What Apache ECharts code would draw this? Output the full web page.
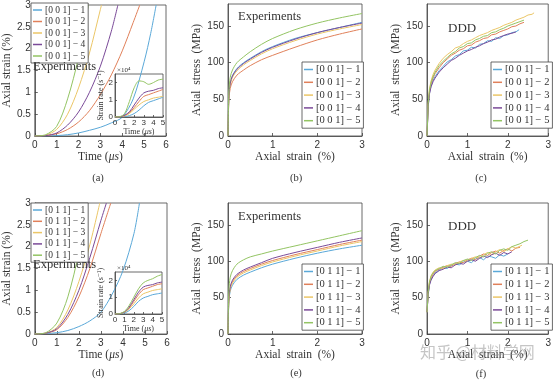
<!DOCTYPE html>
<html><head><meta charset="utf-8">
<script src="https://cdn.jsdelivr.net/npm/echarts@6/dist/echarts.min.js"></script>
<style>html,body{margin:0;padding:0;background:#fff}#c{width:554px;height:383px}</style>
</head><body><div id="c"></div>
<script>
// ---------- DATA ----------
const names001 = ['[0 0 1] − 1','[0 0 1] − 2','[0 0 1] − 3','[0 0 1] − 4','[0 0 1] − 5'];
const names011 = ['[0 1 1] − 1','[0 1 1] − 2','[0 1 1] − 3','[0 1 1] − 4','[0 1 1] − 5'];
const colors = ['#5aa8d8','#e0805a','#ebc667','#7a4a98','#93c463'];

// (a) axial strain (%) vs time (us), [001]
const a1 = [[0,0],[1,0.01],[1.5,0.03],[2,0.07],[2.5,0.13],[3,0.2],[3.5,0.3],[4,0.43],[4.5,0.85],[5,1.7],[5.3,2.35],[5.55,3.0]];
const a2 = [[0,0],[0.5,0.01],[1,0.05],[1.5,0.15],[2,0.32],[2.5,0.58],[3,0.95],[3.5,1.4],[4,1.95],[4.5,2.6],[4.8,3.0]];
const a3 = [[0,0],[0.5,0.02],[1,0.15],[1.5,0.5],[2,1.1],[2.5,1.9],[3,2.9],[3.05,3.0]];
const a4 = [[0,0],[0.5,0.01],[1,0.07],[1.5,0.25],[2,0.55],[2.5,1.0],[3,1.6],[3.5,2.4],[3.8,3.0]];
const a5 = [[0,0],[0.5,0.03],[1,0.22],[1.5,0.85],[2,1.8],[2.45,3.0]];
// (a) inset strain rate (x1e4 1/s)
const tInset = [0,0.5,1,1.5,2,2.5,3,3.5,4,4.5,5];
const ai1 = [0,0,0.02,0.08,0.2,0.4,0.65,0.85,0.95,1.05,1.15];
const ai2 = [0,0.01,0.08,0.25,0.55,0.9,1.2,1.3,1.4,1.5,1.6];
const ai3 = [0,0.01,0.06,0.2,0.45,0.7,0.9,1.0,1.1,1.15,1.2];
const ai4 = [0,0.01,0.1,0.3,0.7,1.1,1.4,1.5,1.55,1.65,1.7];
const ai5 = [0,0.02,0.2,0.9,1.7,2.1,2.05,1.9,2.0,2.15,2.2];

// (b) experiments [001] stress (MPa) vs strain (%)
const strainExp = [0,0.02,0.05,0.1,0.2,0.35,0.5,0.75,1,1.5,2,2.5,3];
const b1 = [0,55,72,82,92,100,106,115,122,133,141,148,155];
const b2 = [0,50,65,74,83,90,96,104,110,121,131,139,146];
const b3 = [0,55,70,80,89,97,103,112,119,130,139,146,152];
const b4 = [0,55,72,82,91,99,105,114,121,132,141,148,154];
const b5 = [0,60,80,90,100,108,115,125,133,145,154,161,167];

// (c) DDD [001]
const c1 = [[0,0],[0.03,40],[0.06,58],[0.1,68],[0.15,76],[0.2,81],[0.3,89],[0.4,95],[0.5,101],[0.6,104],[0.7,109],[0.8,111],[0.9,116],[1.0,117],[1.1,121],[1.2,120],[1.3,125],[1.4,126],[1.5,130],[1.6,129],[1.7,134],[1.8,133],[1.9,137],[2.0,138],[2.1,141],[2.2,142],[2.28,145]];
const c2 = [[0,0],[0.03,42],[0.06,60],[0.1,71],[0.15,79],[0.2,85],[0.3,93],[0.4,100],[0.5,105],[0.6,110],[0.7,113],[0.8,117],[0.9,119],[1.0,123],[1.1,124],[1.2,128],[1.3,130],[1.4,133],[1.5,134],[1.6,138],[1.7,139],[1.8,142],[1.9,144],[2.0,146],[2.1,149],[2.2,150],[2.3,153],[2.4,155]];
const c3 = [[0,0],[0.03,45],[0.06,64],[0.1,75],[0.15,84],[0.2,90],[0.3,99],[0.4,106],[0.5,111],[0.6,115],[0.7,120],[0.8,122],[0.9,126],[1.0,129],[1.1,131],[1.2,134],[1.3,137],[1.4,139],[1.5,141],[1.6,144],[1.7,146],[1.8,148],[1.9,151],[2.0,153],[2.1,155],[2.2,158],[2.3,160],[2.4,162],[2.5,165],[2.6,166],[2.65,168]];
const c4 = [[0,0],[0.03,40],[0.06,57],[0.1,67],[0.15,74],[0.2,79],[0.3,87],[0.4,93],[0.5,98],[0.6,103],[0.7,106],[0.8,110],[0.9,113],[1.0,116],[1.1,118],[1.2,121],[1.3,123],[1.4,126],[1.5,128],[1.6,131],[1.7,132],[1.8,135],[1.9,137],[2.0,139],[2.1,140],[2.2,142]];
const c5 = [[0,0],[0.03,44],[0.06,62],[0.1,73],[0.15,81],[0.2,87],[0.3,96],[0.4,102],[0.5,107],[0.6,112],[0.7,115],[0.8,120],[0.9,122],[1.0,126],[1.1,127],[1.2,131],[1.3,133],[1.4,136],[1.5,137],[1.6,141],[1.7,142],[1.8,145],[1.9,147],[2.0,150],[2.1,152],[2.2,154],[2.3,156],[2.4,158]];

// (d) axial strain vs time, [011]
const d1 = [[0,0],[0.5,0.01],[1,0.03],[1.5,0.08],[2,0.17],[2.5,0.3],[3,0.5],[3.5,0.9],[4,1.45],[4.5,2.3],[4.75,3.0]];
const d2 = [[0,0],[0.5,0.02],[1,0.1],[1.5,0.38],[2,0.85],[2.5,1.5],[3,2.3],[3.45,3.0]];
const d3 = [[0,0],[0.5,0.02],[1,0.15],[1.5,0.55],[2,1.2],[2.5,2.05],[2.95,3.0]];
const d4 = [[0,0],[0.5,0.02],[1,0.12],[1.5,0.45],[2,1.0],[2.5,1.75],[3,2.6],[3.25,3.0]];
const d5 = [[0,0],[0.5,0.03],[1,0.25],[1.5,0.85],[2,1.9],[2.25,3.0]];
// (d) inset
const di1 = [0,0.01,0.05,0.2,0.45,0.75,0.95,1.05,1.15,1.2,1.25];
const di2 = [0,0.02,0.1,0.35,0.75,1.15,1.45,1.55,1.65,1.75,1.8];
const di3 = [0,0.02,0.1,0.3,0.6,0.95,1.2,1.3,1.4,1.45,1.5];
const di4 = [0,0.02,0.12,0.4,0.85,1.3,1.6,1.7,1.75,1.85,1.9];
const di5 = [0,0.02,0.15,0.5,1.0,1.5,1.85,2.0,2.1,2.25,2.35];

// (e) experiments [011]
const e1 = [0,45,59,67,75,81,85,91,96,104,111,117,122];
const e2 = [0,48,63,72,80,86,90,96,101,109,116,123,129];
const e3 = [0,47,62,70,78,84,88,94,99,107,114,121,127];
const e4 = [0,50,65,74,82,88,92,98,104,112,119,126,132];
const e5 = [0,60,78,87,96,102,106,110,114,121,128,135,142];

// (f) DDD [011]
const f1 = [[0,30],[0.03,55],[0.06,68],[0.1,75],[0.15,80],[0.2,84],[0.3,88],[0.4,91],[0.5,90],[0.6,94],[0.7,96],[0.8,95],[0.9,99],[1.0,100],[1.1,98],[1.2,103],[1.3,105],[1.4,102],[1.5,107],[1.6,106],[1.7,104],[1.8,109],[1.9,107],[2.0,110]];
const f2 = [[0,30],[0.03,56],[0.06,70],[0.1,77],[0.15,82],[0.2,86],[0.3,89],[0.4,92],[0.5,94],[0.6,93],[0.7,97],[0.8,99],[0.9,98],[1.0,102],[1.1,104],[1.2,102],[1.3,107],[1.4,110],[1.5,108],[1.6,112],[1.7,114],[1.8,111],[1.9,115],[2.0,117],[2.1,114],[2.2,118],[2.3,119]];
const f3 = [[0,30],[0.03,58],[0.06,72],[0.1,80],[0.15,85],[0.2,88],[0.3,91],[0.4,90],[0.5,94],[0.6,96],[0.7,95],[0.8,99],[0.9,101],[1.0,100],[1.1,104],[1.2,106],[1.3,104],[1.4,109],[1.5,112],[1.6,109],[1.7,113],[1.8,116],[1.9,113],[2.0,117],[2.1,120],[2.2,118],[2.35,122]];
const f4 = [[0,30],[0.03,54],[0.06,67],[0.1,74],[0.15,79],[0.2,83],[0.3,87],[0.4,89],[0.5,92],[0.6,91],[0.7,95],[0.8,97],[0.9,96],[1.0,100],[1.1,102],[1.2,100],[1.3,104],[1.4,107],[1.5,105],[1.6,109],[1.7,111],[1.8,108],[1.9,112],[2.0,110],[2.1,113]];
const f5 = [[0,30],[0.03,57],[0.06,71],[0.1,79],[0.15,84],[0.2,87],[0.3,90],[0.4,93],[0.5,92],[0.6,95],[0.7,98],[0.8,97],[0.9,101],[1.0,103],[1.1,101],[1.2,105],[1.3,108],[1.4,106],[1.5,111],[1.6,113],[1.7,110],[1.8,115],[1.9,117],[2.0,115],[2.1,120],[2.2,122],[2.3,124],[2.4,127],[2.5,129]];

// ---------- BUILD ----------
const SERIF = "'Liberation Serif','DejaVu Serif',serif";
const SANS = "'Liberation Sans','DejaVu Sans',sans-serif";
const AX = '#444';

const grids = [
  {left:31, top:3, width:135, height:133},   // 0 a
  {left:115, top:74, width:48, height:43, backgroundColor:'#fff', z:3}, // 1 a inset
  {left:228, top:4, width:134, height:132},  // 2 b
  {left:427, top:4, width:123, height:132},  // 3 c
  {left:31, top:203, width:136, height:131}, // 4 d
  {left:115, top:272, width:47, height:42, backgroundColor:'#fff', z:3}, // 5 d inset
  {left:228, top:203, width:134, height:131},// 6 e
  {left:427, top:203, width:123, height:131} // 7 f
].map(g => Object.assign({show:true, borderColor:AX, borderWidth:0.8, containLabel:false}, g));

function axisBase(gi, min, max, interval, small){
  return {
    gridIndex: gi, type:'value', min, max, interval,
    axisLine:{show:true, lineStyle:{color:AX, width:0.8}},
    axisTick:{show:true, inside:true, length: small?2:3, lineStyle:{color:AX, width:0.8}},
    axisLabel:{color:'#333', fontFamily:SANS, fontSize: small?8:10, margin: small?2:4, showMaxLabel: undefined},
    splitLine:{show:false},
    z: small?4:undefined
  };
}
const timeName = 'Time ({i|μs})';
function xA(gi, max, name, gap, small){
  const a = axisBase(gi, 0, max, 1, small);
  a.name = name; a.nameLocation='middle'; a.nameGap = gap;
  a.nameTextStyle = {fontFamily:SERIF, fontSize: small?8:11.5, color:'#333',
    rich:{i:{fontFamily:SERIF, fontStyle:'italic', fontSize: small?8:11.5, color:'#333'}}};
  return a;
}
function yA(gi, max, interval, name, gap, small, hideMax){
  const a = axisBase(gi, 0, max, interval, small);
  if (hideMax) a.axisLabel.showMaxLabel = false;
  a.name = name; a.nameLocation='middle'; a.nameGap = gap;
  a.nameTextStyle = {fontFamily:SERIF, fontSize: small?8:11.5, color:'#333'};
  return a;
}

const xAxis = [
  xA(0, 6, timeName, 13),
  xA(1, 5, timeName, 9, true),
  xA(2, 3, 'Axial  strain  (%)', 13),
  xA(3, 3, 'Axial  strain  (%)', 13),
  xA(4, 6, timeName, 13),
  xA(5, 5, timeName, 9, true),
  xA(6, 3, 'Axial  strain  (%)', 13),
  xA(7, 3, 'Axial  strain  (%)', 13)
];
const yAxis = [
  yA(0, 3, 0.5, 'Axial strain (%)', 18),
  yA(1, 2.5, 1, 'Strain rate (s⁻¹)', 6, true, true),
  yA(2, 180, 50, 'Axial  stress  (MPa)', 23, false, true),
  yA(3, 180, 50, 'Axial  stress  (MPa)', 21, false, true),
  yA(4, 3, 0.5, 'Axial strain (%)', 18),
  yA(5, 2.5, 1, 'Strain rate (s⁻¹)', 6, true, true),
  yA(6, 180, 50, 'Axial  stress  (MPa)', 23, false, true),
  yA(7, 180, 50, 'Axial  stress  (MPa)', 21, false, true)
];

const series = [];
function add(gi, name, data, ci, opts){
  series.push(Object.assign({
    type:'line', name, xAxisIndex:gi, yAxisIndex:gi, data,
    showSymbol:false, symbol:'none', smooth:false, clip:true,
    lineStyle:{width:1, color:colors[ci]}, itemStyle:{color:colors[ci]},
    emphasis:{disabled:true}, animation:false
  }, opts||{}));
}
const zip = (xs, ys) => xs.map((x,i)=>[x, ys[i]]);

[a1,a2,a3,a4,a5].forEach((d,i)=>add(0, names001[i], d, i, {smooth:0.3}));
[ai1,ai2,ai3,ai4,ai5].forEach((d,i)=>add(1, names001[i], zip(tInset,d), i, {smooth:0.3, z:5}));
[b1,b2,b3,b4,b5].forEach((d,i)=>add(2, names001[i], zip(strainExp,d), i, {smooth:0.3}));
[c1,c2,c3,c4,c5].forEach((d,i)=>add(3, names001[i], d, i));
[d1,d2,d3,d4,d5].forEach((d,i)=>add(4, names011[i], d, i, {smooth:0.3}));
[di1,di2,di3,di4,di5].forEach((d,i)=>add(5, names011[i], zip(tInset,d), i, {smooth:0.3, z:5}));
[e1,e2,e3,e4,e5].forEach((d,i)=>add(6, names011[i], zip(strainExp,d), i, {smooth:0.3}));
[f1,f2,f3,f4,f5].forEach((d,i)=>add(7, names011[i], d, i));

function leg(names, left, top, fs, gap){
  return {
    data: names, left, top, orient:'vertical', icon:'rect',
    itemWidth:9, itemHeight:1.5, itemGap:gap, padding:[2,3,2,2],
    backgroundColor:'#fff', borderColor:AX, borderWidth:0.8, borderRadius:0,
    selectedMode:false, z:6,
    textStyle:{fontFamily:SERIF, fontSize:fs, color:'#333', padding:[0,0,0,-2]}
  };
}
const legend = [
  leg(names001, 31, 3, 9.5, 1.5),
  leg(names001, 302, 62, 10.5, 1.8),
  leg(names001, 491, 62, 10.5, 1.8),
  leg(names011, 31, 203, 9.5, 1.3),
  leg(names011, 302, 264, 10.5, 1.8),
  leg(names011, 491, 264, 10.5, 1.8)
];

function txt(text, x, y, size, align, extra){
  return Object.assign({type:'text', z:7, style:{text, x, y,
    font: size+'px '+SERIF, fill:'#333',
    textAlign: align||'left', textVerticalAlign:'middle', align: align||'left', verticalAlign:'middle'}}, extra||{});
}
const graphic = [
  txt('Experiments', 33, 67, 12.5),
  txt('Experiments', 238, 17, 12.5),
  txt('DDD', 448, 29, 13),
  txt('Experiments', 33, 265, 12.5),
  txt('Experiments', 238, 217, 12.5),
  txt('DDD', 448, 227, 13),
  txt('×10⁴', 117, 70, 7),
  txt('×10⁴', 117, 268, 7),
  txt('(a)', 98, 178, 10.5, 'center'),
  txt('(b)', 296, 178, 10.5, 'center'),
  txt('(c)', 481, 178, 10.5, 'center'),
  txt('(d)', 98, 373, 10.5, 'center'),
  txt('(e)', 296, 373, 10.5, 'center'),
  txt('(f)', 481, 374, 10.5, 'center'),
  {type:'text', z:8, style:{text:'知乎 @材料学网', x:420, y:352, font:"16px 'Noto Sans CJK SC'",
    fill:'rgba(150,150,150,0.55)', textVerticalAlign:'middle', verticalAlign:'middle'}}
];

const chart = echarts.init(document.getElementById('c'), null, {renderer:'canvas'});
chart.setOption({animation:false, grid:grids, xAxis, yAxis, series, legend, graphic});
</script></body></html>
